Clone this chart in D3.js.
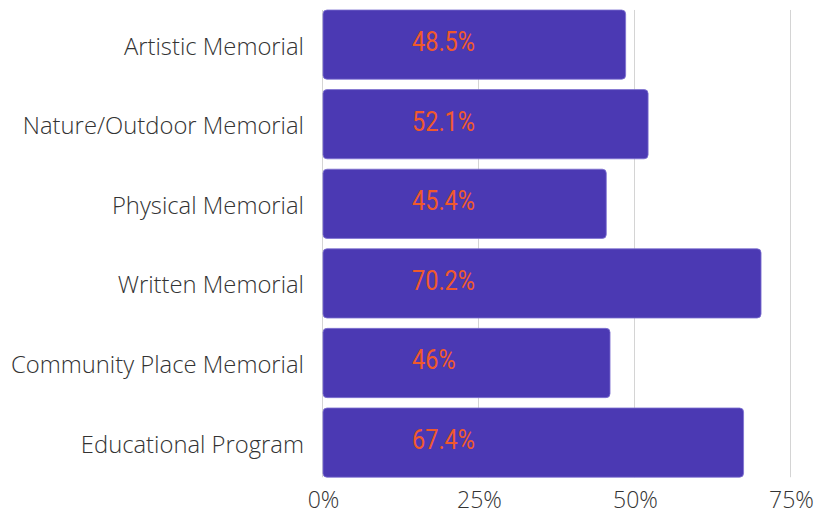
<!DOCTYPE html>
<html>
<head>
<meta charset="utf-8">
<script src="https://cdn.jsdelivr.net/npm/d3@7"></script>
<style>
body { margin: 0; background: #fff; }
</style>
</head>
<body>
<svg id="chart"></svg>
<script>
// data
const categories = ['Artistic Memorial', 'Nature/Outdoor Memorial', 'Physical Memorial',
  'Written Memorial', 'Community Place Memorial', 'Educational Program'];
const values = [48.5, 52.1, 45.4, 70.2, 46, 67.4];
const valueLabels = ['48.5%', '52.1%', '45.4%', '70.2%', '46%', '67.4%'];
const ticks = [0, 25, 50, 75];

const width = 830;
const height = 517;
const svg = d3.select('#chart')
  .attr('width', width)
  .attr('height', height);

const x = d3.scaleLinear()
  .domain([0, 75])
  .range([323, 791]);

const y = d3.scaleBand()
  .domain(categories)
  .range([4.8, 482.4])
  .paddingInner(0.13)
  .paddingOuter(0.065);

// grid lines
svg.append('g')
  .selectAll('line')
  .data(ticks)
  .enter()
  .append('line')
  .attr('x1', d => x(d) - 0.5)
  .attr('x2', d => x(d) - 0.5)
  .attr('y1', y(categories[0]))
  .attr('y2', y(categories[5]) + y.bandwidth())
  .attr('stroke', '#d4d4d4')
  .attr('stroke-width', 1);

// bars
svg.append('g')
  .selectAll('rect')
  .data(values)
  .enter()
  .append('rect')
  .attr('x', x(0))
  .attr('y', (d, i) => y(categories[i]))
  .attr('width', d => x(d) - x(0))
  .attr('height', y.bandwidth())
  .attr('rx', 4)
  .attr('fill', '#4b39b3')
  .attr('stroke', '#7f72d2')
  .attr('stroke-width', 0.8);

// value labels
svg.append('g')
  .selectAll('text')
  .data(valueLabels)
  .enter()
  .append('text')
  .attr('transform', (d, i) => `translate(412,${y(categories[i]) + y.bandwidth() / 2 - 3}) scale(0.87,1)`)
  .attr('dy', '0.35em')
  .attr('font-family', 'Roboto')
  .attr('font-size', 27)
  .attr('fill', '#f0592b')
  .text(d => d);

// category axis
const yAxis = d3.axisLeft(y).tickSize(0).tickPadding(19);
const gy = svg.append('g')
  .attr('transform', `translate(${x(0)},0)`)
  .call(yAxis);
gy.select('.domain').remove();
gy.selectAll('text')
  .attr('dy', '0.42em')
  .attr('font-family', 'Open Sans')
  .attr('font-weight', 300)
  .attr('font-size', 23.8)
  .attr('fill', '#333');

// value axis
const xAxis = d3.axisBottom(x).tickValues(ticks).tickFormat(d => d + '%').tickSize(0);
const gx = svg.append('g')
  .attr('transform', `translate(0,${y(categories[5]) + y.bandwidth()})`)
  .call(xAxis);
gx.select('.domain').remove();
gx.selectAll('text')
  .attr('y', 31)
  .attr('dy', 0)
  .attr('font-family', 'Open Sans')
  .attr('font-weight', 300)
  .attr('font-size', 23)
  .attr('fill', '#333');
</script>
</body>
</html>
